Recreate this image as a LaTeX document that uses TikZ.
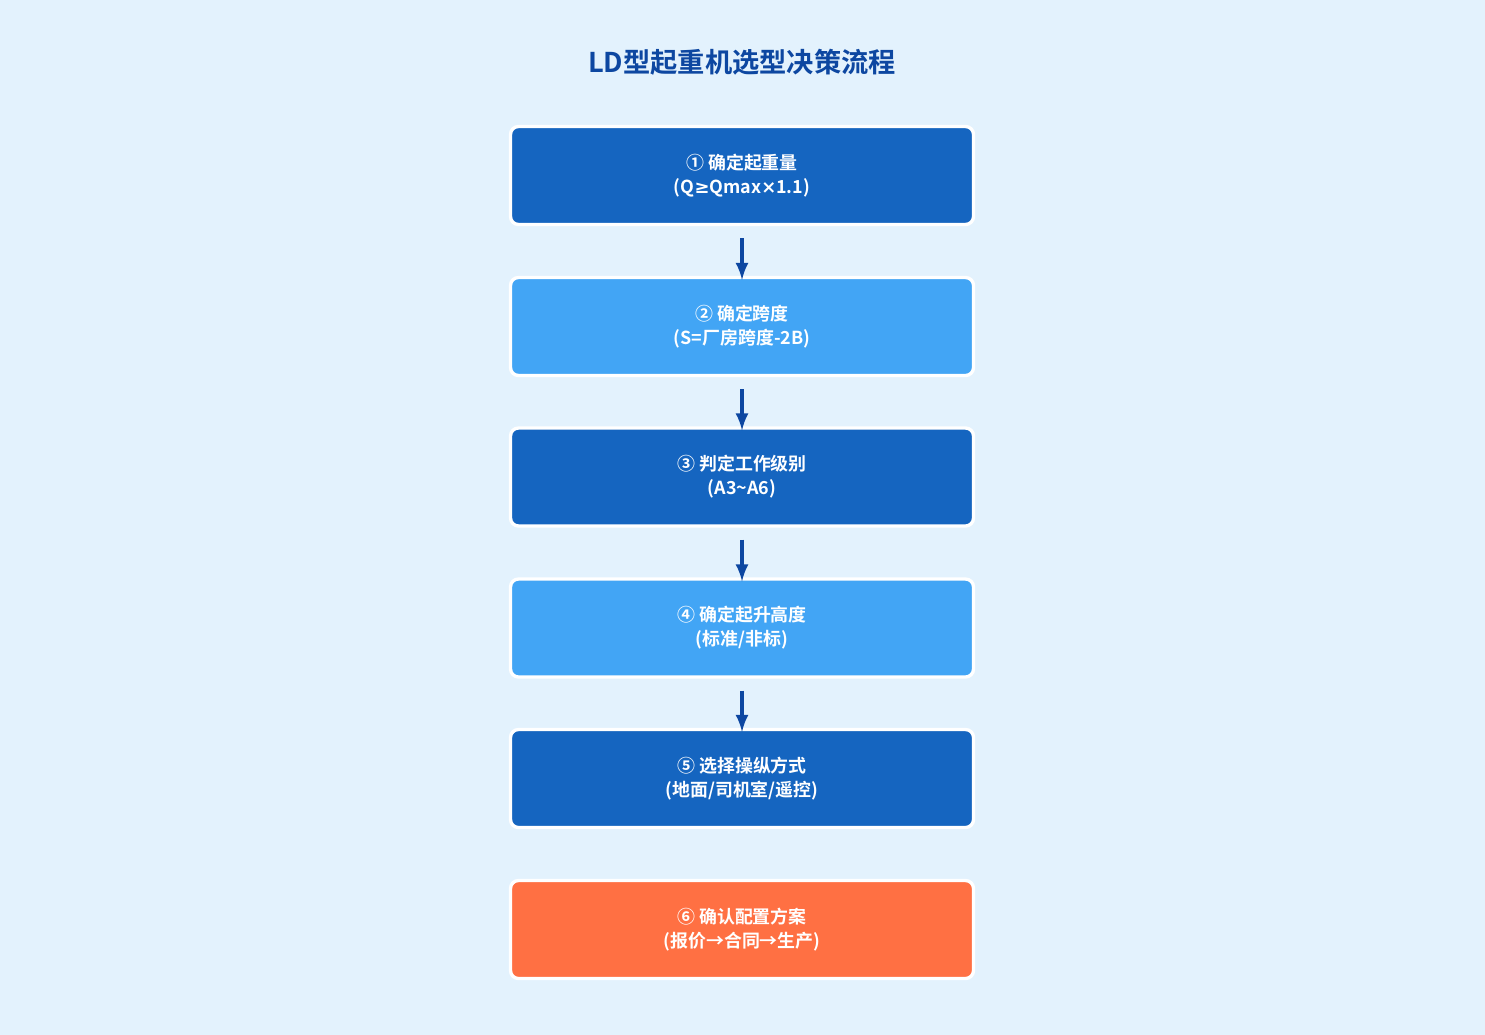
\documentclass[tikz,border=0pt]{standalone}
\usepackage{fontspec}
\setmainfont{Noto Sans CJK SC}[BoldFont={* Bold}]
\newfontfamily\symfont{DejaVu Sans}
\definecolor{bgblue}{HTML}{E3F2FD}
\definecolor{darkstep}{HTML}{1565C0}
\definecolor{lightstep}{HTML}{42A5F5}
\definecolor{endstep}{HTML}{FF7043}
\definecolor{titleblue}{HTML}{0D47A1}
\tikzset{
  stepbox/.style={draw=white, line width=1.9pt, rounded corners=0.16cm, rectangle,
    minimum width=9.26cm, minimum height=1.96cm, text=white, align=center,
    font=\bfseries\fontsize{10.2}{13.7}\selectfont},
  flow/.style={->, draw=titleblue, line width=2.3pt, shorten <=0.24cm, shorten >=-0.08cm}
}
\begin{document}
\begin{tikzpicture}[>=latex]
\fill[bgblue] (0,0) rectangle (29.7,-20.7);
\useasboundingbox (0,0) rectangle (29.7,-20.7);

\node(Titre)[text=titleblue, font=\bfseries\fontsize{15.5}{18}\selectfont] at (14.84,-1.24) {LD型起重机选型决策流程};

\node(T1)[stepbox, fill=darkstep] at (14.84,-3.51) {① 确定起重量\\(Q{\symfont\bfseries ≥}Qmax{\symfont\bfseries ×}1.1)};
\node(T2)[stepbox, fill=lightstep] at (14.84,-6.53) {② 确定跨度\\(S=厂房跨度-2B)};
\node(T3)[stepbox, fill=darkstep] at (14.84,-9.54) {③ 判定工作级别\\(A3\textasciitilde A6)};
\node(T4)[stepbox, fill=lightstep] at (14.84,-12.56) {④ 确定起升高度\\(标准/非标)};
\node(T5)[stepbox, fill=darkstep] at (14.84,-15.57) {⑤ 选择操纵方式\\(地面/司机室/遥控)};
\node(T6)[stepbox, fill=endstep] at (14.84,-18.59) {⑥ 确认配置方案\\(报价→合同→生产)};

\draw (T1.south) edge[flow] (T2.north);
\draw (T2.south) edge[flow] (T3.north);
\draw (T3.south) edge[flow] (T4.north);
\draw (T4.south) edge[flow] (T5.north);
\end{tikzpicture}
\end{document}
